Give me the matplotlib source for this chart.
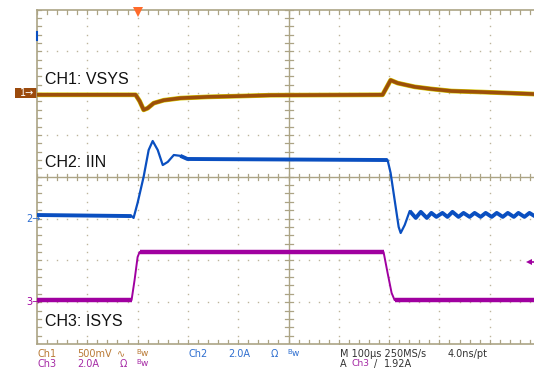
import matplotlib
matplotlib.use("Agg")
import matplotlib.pyplot as plt
from matplotlib.patches import Rectangle

# scope settings
time_per_div = 100.0      # us
t_left = -200.0           # time at left edge of screen (trigger at 0)
ch_scale = {"ch1": 500.0, "ch2": 2.0, "ch3": 2.0}   # mV/div, A/div, A/div
ch_offset = {"ch1": 6.0, "ch2": 3.0, "ch3": 1.0}    # marker position, divisions from bottom
trig_level = 1.92         # A on Ch3

# CH1: VSYS (mV around its marker)
ch1_t = [-200, -4, 4, 12, 20, 32, 52, 85, 139, 205, 264, 487, 503, 517, 551, 584, 624, 684, 783, 800]
ch1_mv = [-20, -20, -95, -200, -180, -120, -85, -60, -45, -35, -25, -20, 155, 120, 75, 50, 25, 13, -10, -15]

# CH2: IIN (A)
ch2_t = [-200, -12, -8, 0, 12, 22, 30, 40, 50, 60, 72, 85, 99, 497, 503, 511, 519, 523, 531, 541,
         553, 563, 575, 584, 594, 606, 616, 626, 638, 648, 660, 670, 682, 692, 704, 714, 726, 736,
         748, 757, 769, 779, 789, 801]
ch2_a = [0.17, 0.12, 0.03, 0.75, 2.0, 3.28, 3.71, 3.28, 2.56, 2.71, 3.04, 3.0, 2.85, 2.80, 2.18, 0.89,
         -0.40, -0.69, -0.31, 0.36, 0.03, 0.32, 0.03, 0.27, 0.08, 0.27, 0.08, 0.32, 0.08, 0.27, 0.08,
         0.27, 0.08, 0.27, 0.08, 0.27, 0.08, 0.27, 0.08, 0.27, 0.08, 0.27, 0.12, 0.17]

# CH3: ISYS (A)
ch3_t = [-200, -12, -6, 0, 4, 489, 497, 505, 511, 800]
ch3_a = [0.1, 0.1, 1.06, 2.16, 2.40, 2.40, 1.40, 0.44, 0.1, 0.1]

grat = "#aca485"
c1, c1_txt = "#9c4f0a", "#b97a35"
c2, c2_txt = "#0a4fc0", "#2f6fd0"
c3, c3_txt = "#a000a0", "#a52aa5"


def tx(ts):
    return [(t - t_left) / time_per_div for t in ts]


def ty(vals, ch):
    return [ch_offset[ch] + v / ch_scale[ch] for v in vals]


fig = plt.figure(figsize=(5.34, 3.68), dpi=100)
W, H = 534.0, 368.0
ax = fig.add_axes([37 / W, 24 / H, 503 / W, 334.5 / H])
ax.set_xlim(0, 10)
ax.set_ylim(0, 8)
ax.axis("off")

px_x = 10 / 503.0     # one pixel in x divisions
px_y = 8 / 334.5      # one pixel in y divisions

# graticule: dotted grid
minor_x = [i * 0.2 for i in range(51)]
minor_y = [i * 0.2 for i in range(41)]
for gy in [1, 2, 3, 5, 6, 7]:
    ax.plot(minor_x, [gy] * len(minor_x), ls="none", marker="s", ms=1.0, color="#bdb59c", mew=0)
for gx in [1, 2, 3, 4, 6, 7, 8, 9]:
    ax.plot([gx] * len(minor_y), minor_y, ls="none", marker="s", ms=1.0, color="#bdb59c", mew=0)

# center cross with ticks
ax.plot([0, 10], [4, 4], color=grat, lw=1.0)
ax.plot([5, 5], [0, 8], color=grat, lw=1.0)
for x in minor_x:
    ax.plot([x, x], [4 - 3 * px_y, 4 + 3 * px_y], color=grat, lw=0.9)
    ax.plot([x, x], [8, 8 - 4 * px_y], color=grat, lw=0.9)
    ax.plot([x, x], [0, 4 * px_y], color=grat, lw=0.9)
for y in minor_y:
    ax.plot([5 - 4 * px_x, 5 + 4 * px_x], [y, y], color=grat, lw=0.9)
    ax.plot([0, 4 * px_x], [y, y], color=grat, lw=0.9)

# border
ax.plot([0, 10], [8, 8], color=grat, lw=1.2, clip_on=False)
ax.plot([0, 10], [0, 0], color=grat, lw=1.2, clip_on=False)
ax.plot([0, 0], [0, 8], color=grat, lw=1.2, clip_on=False)
ax.plot([0, 0], [7.27, 7.46], color=c2, lw=1.5, clip_on=False)

# traces: thin line everywhere, thicker (noisy) band on the settled parts
x3, y3 = tx(ch3_t), ty(ch3_a, "ch3")
ax.plot(x3, y3, color=c3, lw=1.4, zorder=5)
for a, b in [(0, 2), (4, 6), (8, 10)]:
    ax.plot(x3[a:b], y3[a:b], color=c3, lw=3.2, solid_capstyle="butt", zorder=5)

x2, y2 = tx(ch2_t), ty(ch2_a, "ch2")
ax.plot(x2, y2, color=c2, lw=1.6, solid_joinstyle="round", zorder=5)
for a, b in [(0, 2), (11, 14), (19, len(x2))]:
    ax.plot(x2[a:b], y2[a:b], color=c2, lw=2.8, solid_capstyle="butt", zorder=5)

x1, y1 = tx(ch1_t), ty(ch1_mv, "ch1")
ax.plot(x1, y1, color="#d6c400", lw=3.4, solid_joinstyle="round", zorder=5)
ax.plot(x1, y1, color=c1, lw=2.6, solid_joinstyle="round", zorder=6)

# channel labels
lab_kw = dict(fontsize=11.5, family="Liberation Sans", color="#111111", va="center", ha="left",
              bbox=dict(facecolor="white", edgecolor="none", pad=1.0), zorder=7)
ax.text(0.16, 6.32, "CH1: VSYS", **lab_kw)
ax.text(0.16, 4.33, "CH2: IIN", **lab_kw)
ax.text(0.16, 0.53, "CH3: ISYS", **lab_kw)

# channel ground markers on the left
ax.add_patch(Rectangle((-22 * px_x, ch_offset["ch1"] - 5 * px_y), 22 * px_x, 10 * px_y,
                       facecolor="#9b4a0c", edgecolor="none", clip_on=False))
ax.text(-17 * px_x, ch_offset["ch1"], "1\u2192", color="white", fontsize=7, va="center", ha="left",
        clip_on=False)
ax.text(-11 * px_x, ch_offset["ch2"], "2\u2192", color=c2_txt, fontsize=7, va="center", ha="left",
        clip_on=False)
ax.text(-11 * px_x, ch_offset["ch3"], "3\u2192", color=c3, fontsize=7, va="center", ha="left",
        clip_on=False)

# trigger position and level markers
ax.plot([tx([0])[0]], [8 - 2.5 * px_y], marker="v", ms=6.5, color="#ff6a2a", mew=0, clip_on=False, zorder=8)
trig_y = ch_offset["ch3"] + trig_level / ch_scale["ch3"]
ax.plot([9.79], [trig_y], marker="<", ms=5, color=c3, mew=0, clip_on=False)
ax.plot([9.79, 10], [trig_y, trig_y], color=c3, lw=1.2, clip_on=False)

# status lines at the bottom
def status(xp, yp, s, c, fs=7):
    fig.text(xp / W, 1 - yp / H, s, color=c, fontsize=fs, va="center", ha="left")


def bw(xp, yp, c):
    status(xp, yp - 1.5, "B", c, fs=5)
    status(xp + 5, yp, "w", c, fs=6.5)


r1, r2 = 354, 364
status(37, r1, "Ch1", c1_txt)
status(77, r1, "500mV", c1_txt)
status(117, r1, "\u223f", c1_txt)
bw(136, r1, c1_txt)
status(188, r1, "Ch2", c2_txt)
status(228, r1, "2.0A", c2_txt)
status(271, r1, "\u03a9", c2_txt)
bw(287, r1, c2_txt)
status(340, r1, "M 100\u00b5s 250MS/s", "#333333")
status(448, r1, "4.0ns/pt", "#333333")
status(37, r2, "Ch3", c3_txt)
status(77, r2, "2.0A", c3_txt)
status(120, r2, "\u03a9", c3_txt)
bw(136, r2, c3_txt)
status(340, r2, "A", "#333333")
status(351, r2, "Ch3", c3_txt, fs=6.6)
status(374, r2, "/", "#333333")
status(384, r2, "1.92A", "#333333")

fig.savefig("out.png", dpi=100, facecolor="white")
